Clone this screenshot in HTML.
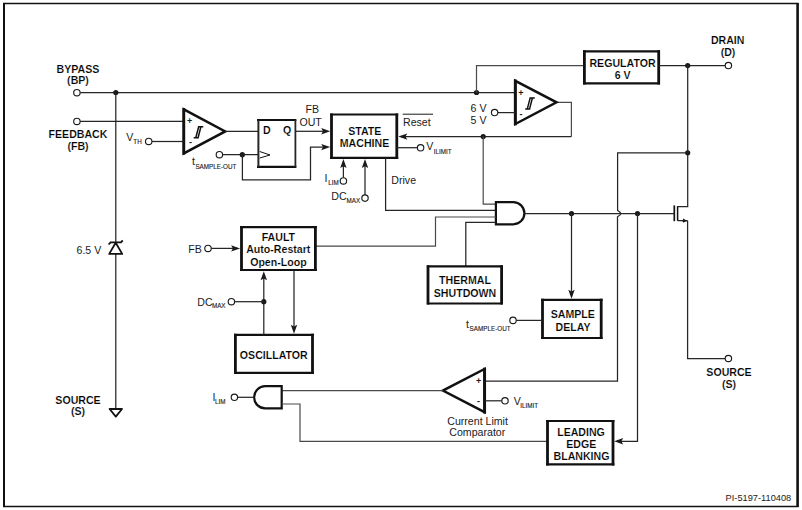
<!DOCTYPE html>
<html><head><meta charset="utf-8">
<style>
html,body{margin:0;padding:0;background:#fff;width:802px;height:510px;overflow:hidden}
svg{display:block}
text{font-family:"Liberation Sans",sans-serif;fill:#1a1a1a}
.b{font-weight:bold;font-size:10.6px;fill:#000;stroke:#fff;stroke-width:0.16}
.r{font-size:10.6px}
.s{font-size:6.3px;stroke:#1a1a1a;stroke-width:0.12}
.wg{fill:none;stroke:#4a4a4a;stroke-width:1.2}
.pm{font-weight:bold;font-size:9px}
.w{fill:none;stroke:#262626;stroke-width:1.25}
.bh{fill:none;stroke:#111;stroke-width:2.2}
.bv{fill:none;stroke:#111;stroke-width:2.8}
.tri{fill:none;stroke:#111;stroke-width:2.5;stroke-linejoin:miter}
.sch{fill:none;stroke:#111;stroke-width:1.5}
.c{fill:#fff;stroke:#1a1a1a;stroke-width:1.15}
.d{fill:#1a1a1a}
.ah{fill:#1a1a1a}
</style></head><body>
<svg width="802" height="510" viewBox="0 0 802 510">
<g id="gfx">
<!-- border -->
<path d="M3,3.6 H798.5 M3,506.4 H798.5" fill="none" stroke="#111" stroke-width="1.5"/>
<path d="M4,3 V507" fill="none" stroke="#111" stroke-width="2"/>
<line x1="797.6" y1="3" x2="797.6" y2="507" stroke="#111" stroke-width="2.6"/>

<!-- BYPASS rail -->
<path class="w" d="M80.2,92.5 H515"/>
<circle class="c" cx="76.9" cy="92.7" r="3.2"/>
<circle class="d" cx="115.8" cy="92.5" r="2.6"/>
<circle class="d" cx="476.5" cy="92.5" r="2.6"/>

<!-- FEEDBACK -->
<path class="w" d="M80.2,121.4 H183.8"/>
<circle class="c" cx="76.9" cy="121.4" r="3.2"/>

<!-- vertical BP rail with zener -->
<path class="w" d="M115.8,92.5 V242.4 M115.8,253.9 V408.8"/>
<path d="M115.7,242.8 L109.2,253.9 H122.2 Z" fill="none" stroke="#111" stroke-width="1.8" stroke-linejoin="round"/>
<path d="M108.6,244.5 L110.6,242.3 H121 L122.7,240.3" fill="none" stroke="#111" stroke-width="1.8"/>
<path d="M109.6,409 H122 L115.8,416.6 Z" fill="none" stroke="#111" stroke-width="1.8" stroke-linejoin="round"/>

<!-- comparator 1 -->
<path class="tri" d="M183.8,109.3 V153.3 L225.2,131.4 Z"/>
<path d="M183.8,108 V154.6" fill="none" stroke="#111" stroke-width="2.7"/>
<path class="sch" d="M198.1,126.7 H203.3 M198.7,126.7 L195.8,137.7 M200.9,126.8 L198.1,137.7 M193.7,137.7 H198.8"/>
<path class="w" d="M152,141.5 H183.8"/>
<circle class="c" cx="148.7" cy="141.4" r="3.2"/>
<path class="w" d="M225.2,131.4 H258.4"/>

<!-- flip flop -->
<path class="bh" d="M257,120 H296.4 M257,166.9 H296.4"/>
<path class="w" d="M258.4,120 V166.9" style="stroke-width:2"/>
<path class="w" d="M295.4,120 V166.9" style="stroke-width:1.8"/>
<path d="M259.7,151.5 L270,155 L259.7,158" fill="none" stroke="#111" stroke-width="1"/>
<path class="w" d="M222.6,154.7 H258.4"/>
<circle class="c" cx="219.4" cy="154.7" r="3.2"/>
<circle class="d" cx="242.3" cy="154.7" r="2.6"/>
<path class="w" d="M242.4,154.7 V179.9 H310.5 V147.1 H327"/>
<path class="ah" d="M330.2,147.1 L321.2,143.9 L323.0,147.1 L321.2,150.3 Z"/>
<path class="w" d="M295.4,131.3 H327"/>
<path class="ah" d="M330.2,131.3 L321.2,128.1 L323.0,131.3 L321.2,134.5 Z"/>

<!-- state machine -->
<path class="bh" d="M330.1,114.5 H398.2 M330.1,157.9 H398.2"/>
<path class="bv" d="M331.5,113.4 V159 M396.8,113.4 V159"/>
<path d="M402.7,114.2 H433" fill="none" stroke="#1a1a1a" stroke-width="1"/>
<path class="wg" d="M557,102.4 H571.4 V136.6"/>
<path class="w" d="M571.4,136.6 H401"/>
<path class="ah" d="M398.3,136.6 L407.3,133.4 L405.5,136.6 L407.3,139.8 Z"/>
<path class="w" d="M396.8,147.7 H417.4"/>
<circle class="c" cx="420.6" cy="147.8" r="3.2"/>
<path class="w" d="M385.6,157.9 V210.4 H495.9"/>
<path class="w" d="M343.4,177.7 V162"/>
<path class="ah" d="M343.4,159.0 L340.2,168.0 L343.4,166.2 L346.6,168.0 Z"/>
<circle class="c" cx="343.4" cy="180.9" r="3.2"/>
<path class="w" d="M365,194.9 V162"/>
<path class="ah" d="M365.0,159.0 L361.8,168.0 L365.0,166.2 L368.2,168.0 Z"/>
<circle class="c" cx="365" cy="198.1" r="3.2"/>

<!-- comparator 2 -->
<path class="tri" d="M515.3,80.8 V124 L556.5,102.3 Z"/>
<path d="M515.3,79.5 V125.3" fill="none" stroke="#111" stroke-width="2.9"/>
<path class="sch" d="M529.6,97.9 H534.8 M530.2,97.9 L527.3,108.9 M532.4,98 L529.6,108.9 M525.2,108.9 H530.3"/>
<path class="w" d="M497.8,112.6 H515.2"/>
<circle class="c" cx="494.6" cy="112.5" r="3.2"/>
<circle class="d" cx="483.2" cy="136.6" r="2.6"/>
<path class="wg" d="M483.2,136.6 V204.2 H495.9"/>
<path class="wg" d="M476.5,92.5 V65.7 H584.4"/>

<!-- regulator -->
<path class="bh" d="M583,51.3 H660 M583,83.3 H660"/>
<path class="bv" d="M584.4,50.2 V84.4 M658.7,50.2 V84.4"/>
<path class="w" d="M658.7,65.6 H725.2"/>
<circle class="c" cx="728.4" cy="65.6" r="3.2"/>
<circle class="d" cx="687.7" cy="65.6" r="2.6"/>

<!-- drain rail & mosfet -->
<path class="w" d="M687.7,65.6 V206.5 H677.6"/>
<circle class="d" cx="687.7" cy="152.8" r="2.6"/>
<path class="w" d="M687.7,152.8 H617.6 V210.4 L620.1,212.3 Q621.3,213.6 620.1,214.9 L617.5,216.8 V381 H485"/>
<path d="M674.3,205.4 V221.2" fill="none" stroke="#111" stroke-width="1.7"/>
<path d="M677.6,206.2 V220.8" fill="none" stroke="#111" stroke-width="1.5"/>
<path class="w" d="M677.6,220.7 H683 M687.6,220.7 V358.5 H725.2"/>
<path class="ah" d="M687.2,220.7 L683,218.6 L683,222.8 Z"/>
<path d="M682,220.7 H687.6" fill="none" stroke="#1a1a1a" stroke-width="1.4"/>
<circle class="c" cx="728.4" cy="358.5" r="3.2"/>

<!-- AND gate 1 -->
<path d="M495.9,202.1 H513.3 A11.1,11.1 0 0 1 513.3,224.3 H495.9 Z" fill="#fff" stroke="#111" stroke-width="2.2"/>
<path class="w" d="M524.6,213.5 H674.4"/>
<circle class="d" cx="571.5" cy="213.5" r="2.6"/>
<circle class="d" cx="637.5" cy="213.5" r="2.6"/>

<!-- fault line & thermal -->
<path class="wg" d="M315.4,246.1 H435.5 V217 H495.9"/>
<path class="w" d="M465.8,266.4 V222.3 H495.9"/>
<path class="bh" d="M426.9,266.4 H502.7 M426.9,303.5 H502.7"/>
<path class="bv" d="M428,265.3 V304.6 M501.6,265.3 V304.6"/>

<!-- sample delay -->
<path class="w" d="M571.5,213.5 V296"/>
<path class="ah" d="M571.5,298.8 L568.3,289.8 L571.5,291.6 L574.7,289.8 Z"/>
<path class="bh" d="M541.1,299.9 H602.6 M541.1,338 H602.6"/>
<path class="bv" d="M542.5,298.8 V339.1 M601.2,298.8 V339.1"/>
<path class="w" d="M516.2,320.4 H542.5"/>
<circle class="c" cx="513" cy="320.4" r="3.2"/>

<!-- fault box -->
<path class="bh" d="M240.1,227.1 H316.8 M240.1,270 H316.8"/>
<path class="bv" d="M241.5,226 V271.1 M315.4,226 V271.1"/>
<path class="w" d="M211.2,248.4 H237"/>
<path class="ah" d="M240.1,248.4 L231.1,245.2 L232.9,248.4 L231.1,251.6 Z"/>
<circle class="c" cx="208" cy="248.4" r="3.2"/>

<!-- oscillator -->
<path class="bh" d="M234,334.9 H313.9 M234,372.8 H313.9"/>
<path class="bv" d="M235.4,333.8 V373.9 M312.5,333.8 V373.9"/>
<path class="w" d="M263.8,334.9 V274"/>
<path class="ah" d="M263.8,271.3 L260.6,280.3 L263.8,278.5 L267.0,280.3 Z"/>
<circle class="d" cx="263.8" cy="301.7" r="2.6"/>
<path class="w" d="M234.6,301.7 H263.8"/>
<circle class="c" cx="231.4" cy="301.7" r="3.2"/>
<path class="w" d="M294,270 V331"/>
<path class="ah" d="M294.0,333.7 L290.8,324.7 L294.0,326.5 L297.2,324.7 Z"/>

<!-- current limit comparator -->
<path class="tri" d="M484.6,369 V412.2 L442.9,390.6 Z"/>
<path d="M484.6,367.7 V413.5" fill="none" stroke="#111" stroke-width="2.9"/>
<path class="w" d="M485,400.8 H501.8"/>
<circle class="c" cx="505" cy="400.8" r="3.2"/>
<path class="wg" d="M442.9,390.6 H281.7"/>

<!-- AND gate 2 -->
<path d="M281.7,386.2 H265.2 A11.1,11.1 0 0 0 265.2,408.4 H281.7 Z" fill="#fff" stroke="#111" stroke-width="2.2"/>
<path class="w" d="M254,397.3 H237.6"/>
<circle class="c" cx="234.4" cy="397.3" r="3.2"/>
<path class="wg" d="M281.7,404 H300 V441.4 H547.5"/>

<!-- leading edge blanking -->
<path class="bh" d="M546.1,421 H614.4 M546.1,464.4 H614.4"/>
<path class="bv" d="M547.5,419.9 V465.5 M613,419.9 V465.5"/>
<path class="w" d="M637.5,213.5 V441.3 H617"/>
<path class="ah" d="M614.2,441.3 L623.2,438.1 L621.4,441.3 L623.2,444.5 Z"/>
</g>

<g id="txt">
<text class="b" x="78" y="72.6" text-anchor="middle">BYPASS</text>
<text class="b" x="78" y="84" text-anchor="middle">(BP)</text>
<text class="b" x="78" y="138.3" text-anchor="middle">FEEDBACK</text>
<text class="b" x="78" y="150" text-anchor="middle">(FB)</text>
<text class="r" x="76.5" y="254.2">6.5 V</text>
<text class="b" x="78" y="403.6" text-anchor="middle">SOURCE</text>
<text class="b" x="78" y="415" text-anchor="middle">(S)</text>

<text class="pm" x="189.6" y="124.4" text-anchor="middle">+</text>
<text class="pm" x="190.4" y="144.8" text-anchor="middle">-</text>
<text class="r" x="126.3" y="141.2">V</text><text class="s" x="133.3" y="144">TH</text>
<text class="b" x="263" y="133.5">D</text>
<text class="b" x="283" y="133.5">Q</text>
<text class="r" x="192" y="164.7">t</text><text class="s" x="195.4" y="168.6">SAMPLE-OUT</text>
<text class="r" x="312.3" y="112.9" text-anchor="middle">FB</text>
<text class="r" x="310.6" y="125.7" text-anchor="middle">OUT</text>

<text class="b" x="364.8" y="134.5" text-anchor="middle">STATE</text>
<text class="b" x="364.5" y="146.8" text-anchor="middle">MACHINE</text>
<text class="r" x="403" y="126">Reset</text>
<text class="r" x="426.2" y="150.3">V</text><text class="s" x="433.8" y="154.2">ILIMIT</text>
<text class="r" x="391.3" y="184.1">Drive</text>
<text class="r" x="324.6" y="182.2">I</text><text class="s" x="328.2" y="184.8">LIM</text>
<text class="r" x="331.3" y="199.7">DC</text><text class="s" x="346.6" y="203.2">MAX</text>

<text class="pm" x="520.9" y="95.8" text-anchor="middle">+</text>
<text class="pm" x="521" y="116.6" text-anchor="middle">-</text>
<text class="r" x="470.6" y="111.7">6 V</text>
<text class="r" x="470.6" y="124">5 V</text>

<text class="b" x="622.5" y="67.4" text-anchor="middle">REGULATOR</text>
<text class="b" x="622.6" y="79.4" text-anchor="middle">6 V</text>
<text class="b" x="727.7" y="44.2" text-anchor="middle">DRAIN</text>
<text class="b" x="728" y="55.5" text-anchor="middle">(D)</text>
<text class="b" x="729" y="376" text-anchor="middle">SOURCE</text>
<text class="b" x="729" y="387.5" text-anchor="middle">(S)</text>

<text class="b" x="465" y="284" text-anchor="middle">THERMAL</text>
<text class="b" x="465" y="297" text-anchor="middle">SHUTDOWN</text>
<text class="b" x="572.8" y="318.4" text-anchor="middle">SAMPLE</text>
<text class="b" x="573" y="330.8" text-anchor="middle">DELAY</text>
<text class="r" x="466" y="327.6">t</text><text class="s" x="469.6" y="330.6">SAMPLE-OUT</text>

<text class="b" x="278.4" y="241" text-anchor="middle">FAULT</text>
<text class="b" x="278.3" y="253.3" text-anchor="middle">Auto-Restart</text>
<text class="b" x="278.4" y="265.6" text-anchor="middle">Open-Loop</text>
<text class="r" x="188.2" y="252.8">FB</text>
<text class="b" x="273.8" y="358.6" text-anchor="middle">OSCILLATOR</text>
<text class="r" x="197.3" y="305.8">DC</text><text class="s" x="211.9" y="308.2">MAX</text>

<text class="pm" x="478.6" y="383.8" text-anchor="middle">+</text>
<text class="pm" x="478.6" y="404.2" text-anchor="middle">-</text>
<text class="r" x="513.8" y="405.2">V</text><text class="s" x="520.3" y="408">ILIMIT</text>
<text class="r" x="477.6" y="425.3" text-anchor="middle">Current Limit</text>
<text class="r" x="477.3" y="435.9" text-anchor="middle">Comparator</text>
<text class="r" x="212.6" y="401.3">I</text><text class="s" x="215" y="403.6">LIM</text>

<text class="b" x="581" y="435.7" text-anchor="middle">LEADING</text>
<text class="b" x="581.3" y="447.8" text-anchor="middle">EDGE</text>
<text class="b" x="581.5" y="460.3" text-anchor="middle">BLANKING</text>
<text class="r" x="725.6" y="500.9" textLength="65.6" lengthAdjust="spacingAndGlyphs" style="font-size:9.8px">PI-5197-110408</text>
</g>
</svg>
</body></html>
